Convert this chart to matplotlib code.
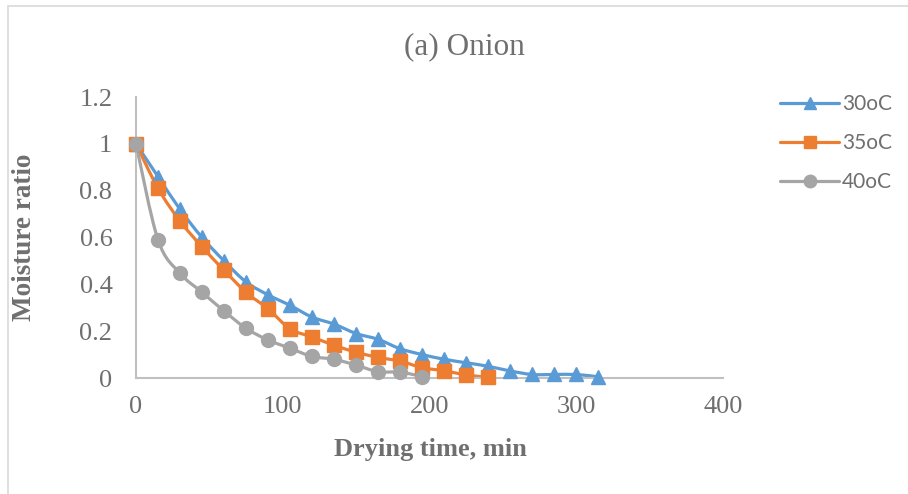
import matplotlib
matplotlib.use("Agg")
import matplotlib.pyplot as plt
from matplotlib.path import Path
from matplotlib.patches import PathPatch, Rectangle
from matplotlib.lines import Line2D
import numpy as np

# ---- data ----
t30 = [0, 15, 30, 45, 60, 75, 90, 105, 120, 135, 150, 165, 180, 195, 210, 225, 240, 255, 270, 285, 300, 315]
mr30 = [1.0, 0.86, 0.72, 0.60, 0.50, 0.41, 0.355, 0.31, 0.26, 0.23, 0.19, 0.165, 0.125, 0.10, 0.08, 0.065, 0.05, 0.03, 0.015, 0.015, 0.015, 0.005]
t35 = [0, 15, 30, 45, 60, 75, 90, 105, 120, 135, 150, 165, 180, 195, 210, 225, 240]
mr35 = [1.0, 0.81, 0.67, 0.56, 0.46, 0.366, 0.295, 0.21, 0.175, 0.14, 0.11, 0.088, 0.072, 0.044, 0.031, 0.013, 0.003]
t40 = [0, 15, 30, 45, 60, 75, 90, 105, 120, 135, 150, 165, 180, 195]
mr40 = [1.0, 0.59, 0.447, 0.366, 0.286, 0.212, 0.162, 0.127, 0.092, 0.08, 0.055, 0.027, 0.025, 0.006]
series_labels = ["30oC", "35oC", "40oC"]
x_ticks = [0, 100, 200, 300, 400]
y_ticks = [0, 0.2, 0.4, 0.6, 0.8, 1.0, 1.2]
y_tick_labels = ["0", "0.2", "0.4", "0.6", "0.8", "1", "1.2"]

colors = ["#5B9BD5", "#ED7D31", "#A5A5A5"]
markers = ["^", "s", "o"]
msizes = [10, 10, 10]
text_gray = "#6f6f6f"
serif = ["Liberation Serif", "DejaVu Serif"]

W, H = 908, 494
fig = plt.figure(figsize=(W / 100, H / 100), dpi=100)
fig.patch.set_facecolor("white")
fig.patches.append(Rectangle((8 / W, -0.05), 1.0, (494 - 6) / H + 0.05, transform=fig.transFigure,
                             fill=False, edgecolor="#d9d9d9", lw=1.2))

ax = fig.add_axes([136 / W, (H - 378) / H, (723 - 136) / W, (378 - 97) / H])
ax.set_xlim(0, 400)
ax.set_ylim(0, 1.2)


def smooth_path(x, y):
    pts = np.column_stack([x, y]).astype(float)
    n = len(pts)
    verts = [pts[0]]
    codes = [Path.MOVETO]
    for i in range(n - 1):
        p0 = pts[i - 1] if i > 0 else pts[i]
        p1 = pts[i]
        p2 = pts[i + 1]
        p3 = pts[i + 2] if i + 2 < n else pts[i + 1]
        c1 = p1 + (p2 - p0) / 6.0
        c2 = p2 - (p3 - p1) / 6.0
        verts += [c1, c2, p2]
        codes += [Path.CURVE4] * 3
    return Path(verts, codes)


data = [(t30, mr30), (t35, mr35), (t40, mr40)]
for (x, y), c, m, ms in zip(data, colors, markers, msizes):
    patch = PathPatch(smooth_path(x, y), facecolor="none", edgecolor=c, lw=2.3,
                      capstyle="round", joinstyle="round", transform=ax.transData, clip_on=False)
    ax.add_patch(patch)
    ax.plot(x, y, linestyle="none", marker=m, ms=ms, color=c, markeredgecolor=c, clip_on=False, zorder=3)

for s in ["top", "right"]:
    ax.spines[s].set_visible(False)
for s in ["left", "bottom"]:
    ax.spines[s].set_color("#c0c0c0")
    ax.spines[s].set_linewidth(1.5)

ax.set_xticks(x_ticks)
ax.set_xticklabels([str(v) for v in x_ticks])
ax.set_yticks(y_ticks)
ax.set_yticklabels(y_tick_labels)
ax.tick_params(length=0, labelsize=19, labelcolor=text_gray)
ax.tick_params(axis="x", pad=13)
ax.tick_params(axis="y", pad=17)
for lab in ax.get_xticklabels() + ax.get_yticklabels():
    lab.set_family(serif)

fig.text(464 / W, 1 - 47 / H, "(a) Onion", ha="center", va="center", fontsize=22.5,
         color=text_gray, family=serif)
fig.text(430 / W, 1 - 449 / H, "Drying time, min", ha="center", va="center", fontsize=19,
         color=text_gray, family=serif, fontweight="bold")
fig.text(25 / W, 1 - 237 / H, "Moisture ratio", ha="center", va="center", fontsize=19.5,
         color=text_gray, family=serif, fontweight="bold", rotation=90)

handles = [Line2D([], [], color=c, lw=2.3, marker=m, ms=9, solid_capstyle="round")
           for c, m in zip(colors, markers)]
leg = fig.legend(handles, series_labels, loc="upper left", bbox_to_anchor=(772 / W, 1 - 86 / H),
                 frameon=False, prop={"family": "Lato", "size": 15}, handlelength=2.8,
                 handletextpad=0.15, labelspacing=0.9, borderaxespad=0)
for t in leg.get_texts():
    t.set_color(text_gray)

fig.savefig("out.png", dpi=100, facecolor="white")
